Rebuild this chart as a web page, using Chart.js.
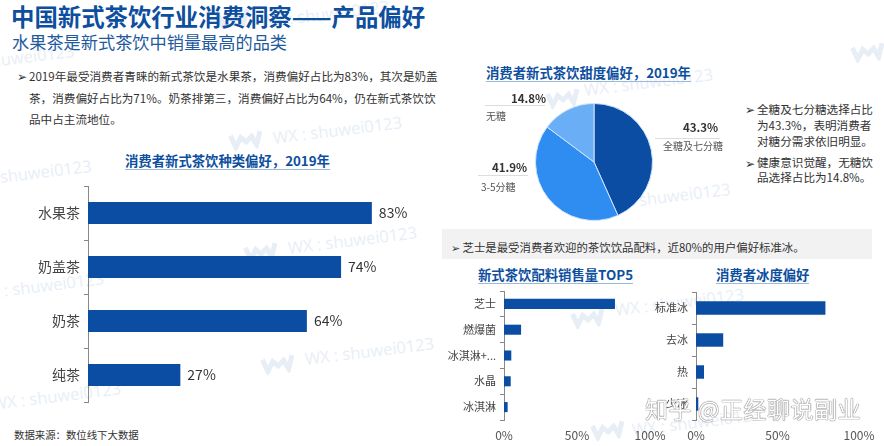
<!DOCTYPE html>
<html>
<head>
<meta charset="utf-8">
<script src="https://cdn.jsdelivr.net/npm/chart.js@4"></script>
<style>
html,body{margin:0;padding:0;background:#fff}
#page{position:relative;width:884px;height:446px;overflow:hidden;font-family:"Noto Sans CJK SC","Noto Sans",sans-serif;color:#333}
#page div{position:absolute;white-space:nowrap}
canvas{position:absolute}
svg.logo{position:absolute;width:36px;height:20px;transform:rotate(-7deg)}
.head{font-weight:700;font-size:13.35px;color:#0d4f9e;border-bottom:1px solid #9db9da;line-height:17px}
.body{font-size:11.6px;line-height:21.5px;color:#333}
.side{font-size:11.6px;line-height:16px;color:#333}
.mark{color:#e8eef6;font-size:16.5px;line-height:20px;transform:rotate(-7deg);transform-origin:left center;font-family:"Open Sans",sans-serif}
.pct{font-weight:700;font-size:11.5px;color:#333}
.cat{font-size:10px;color:#555}
.rule{height:1px;background:#ddd}
</style>
</head>
<body>
<div id="page">
  <svg width="0" height="0" style="position:absolute"><defs><path id="wLogo" d="M3 4 L7 16 L13 7 L18 12 L24 7 L28 16 L33 3" fill="none" stroke="#e8eef6" stroke-width="5"/></defs></svg>
  <svg class="logo" style="left:215px;top:8px"><use href="#wLogo"/></svg>
  <svg class="logo" style="left:228px;top:130px"><use href="#wLogo"/></svg>
  <svg class="logo" style="left:243px;top:242px"><use href="#wLogo"/></svg>
  <svg class="logo" style="left:260px;top:354px"><use href="#wLogo"/></svg>
  <svg class="logo" style="left:545px;top:88px"><use href="#wLogo"/></svg>
  <svg class="logo" style="left:570px;top:308px"><use href="#wLogo"/></svg>
  <svg class="logo" style="left:590px;top:420px"><use href="#wLogo"/></svg>
  <svg class="logo" style="left:850px;top:42px"><use href="#wLogo"/></svg>
  <div class="mark" style="left:260px;top:12px">WX : shuwei0123</div>
  <div class="mark" style="left:273px;top:128px">WX : shuwei0123</div>
  <div class="mark" style="left:288px;top:238px">WX : shuwei0123</div>
  <div class="mark" style="left:305px;top:349px">WX : shuwei0123</div>
  <div class="mark" style="left:584px;top:80px">WX : shuwei0123</div>
  <div class="mark" style="left:615px;top:300px">WX : shuwei0123</div>
  <div class="mark" style="left:632px;top:420px">WX : shuwei0123</div>
  <div class="mark" style="left:-25px;top:284px">WX : shuwei0123</div>
  <div class="mark" style="left:-8px;top:394px">WX : shuwei0123</div>
  <div class="mark" style="left:-17px;top:52px">shuwei0123</div>
  <div class="mark" style="left:0;top:167px">shuwei0123</div>
  <div class="mark" style="left:639px;top:190px">shuwei0123</div>

  <div style="left:11px;top:0;font-size:23.4px;line-height:32px;font-weight:700;color:#0d4f9e">中国新式茶饮行业消费洞察——产品偏好</div>
  <div style="left:12px;top:30px;font-size:17.2px;line-height:24px;color:#1f5a9e">水果茶是新式茶饮中销量最高的品类</div>

  <div class="body" style="left:17px;top:66px">➢</div>
  <div class="body" style="left:29px;top:66px">2019年最受消费者青睐的新式茶饮是水果茶，消费偏好占比为83%，其次是奶盖<br>茶，消费偏好占比为71%。奶茶排第三，消费偏好占比为64%，仍在新式茶饮饮<br>品中占主流地位。</div>

  <div class="head" style="left:125px;top:152px">消费者新式茶饮种类偏好，2019年</div>
  <div class="head" style="left:486px;top:64px">消费者新式茶饮甜度偏好，2019年</div>
  <div class="head" style="left:478px;top:266px">新式茶饮配料销售量TOP5</div>
  <div class="head" style="left:716px;top:266px">消费者冰度偏好</div>

  <div class="side" style="left:745px;top:101px">➢</div>
  <div class="side" style="left:757px;top:101px">全糖及七分糖选择占比<br>为43.3%，表明消费者<br>对糖分需求依旧明显。</div>
  <div class="side" style="left:745px;top:155px">➢</div>
  <div class="side" style="left:757px;top:155px;line-height:15px">健康意识觉醒，无糖饮<br>品选择占比为14.8%。</div>

  <div style="left:442px;top:229px;width:430px;height:30px;background:#f2f2f3"></div>
  <div style="left:451px;top:238px;font-size:11.4px;line-height:18px">➢ 芝士是最受消费者欢迎的茶饮饮品配料，近80%的用户偏好标准冰。</div>

  <canvas id="teaChart" style="left:0;top:180px"></canvas>
  <canvas id="sugarChart" style="left:524px;top:92px"></canvas>
  <canvas id="toppingChart" style="left:442px;top:284px"></canvas>
  <canvas id="iceChart" style="left:640px;top:284px"></canvas>

  <div class="pct" style="left:511px;top:90px">14.8%</div>
  <div class="rule" style="left:485px;top:105px;width:60px"></div>
  <div class="cat" style="left:486px;top:108px">无糖</div>
  <div class="pct" style="left:683px;top:119px">43.3%</div>
  <div class="rule" style="left:655px;top:138px;width:65px"></div>
  <div class="cat" style="left:663px;top:138px">全糖及七分糖</div>
  <div class="pct" style="left:492px;top:159px">41.9%</div>
  <div class="rule" style="left:478px;top:175px;width:50px"></div>
  <div class="cat" style="left:481px;top:179px">3-5分糖</div>

  <div style="left:14px;top:428px;font-size:10.4px;line-height:14px">数据来源：数位线下大数据</div>
  <div style="left:645px;top:393px;font-size:23px;line-height:30px;letter-spacing:.5px;color:#fff;text-shadow:0 0 1px #555,0 0 1px #555">知乎 @正经聊说副业</div>
</div>

<script>
const teaLabels = ['水果茶', '奶盖茶', '奶茶', '纯茶'];
const teaValues = [83, 74, 64, 27];

const sugarLabels = ['全糖及七分糖', '3-5分糖', '无糖'];
const sugarValues = [43.3, 41.9, 14.8];
const sugarColors = ['#0a4da2', '#2f8cf0', '#6aaef5'];

const toppingLabels = ['芝士', '燃爆菌', '冰淇淋+...', '水晶', '冰淇淋'];
const toppingValues = [76, 11.7, 5, 4.6, 2.5];

const iceLabels = ['标准冰', '去冰', '热', '少冰'];
const iceValues = [79.4, 16.7, 4.9, 1.4];

const pctTicks = [0, 50, 100];
const barBlue = '#0a4da2';
const fontName = '"Noto Sans CJK SC", "Noto Sans", sans-serif';

Chart.defaults.font.family = fontName;
Chart.defaults.animation = false;
Chart.defaults.responsive = false;
Chart.defaults.devicePixelRatio = 1;

// writes the "83%" next to each bar
const barValueLabels = {
  id: 'barValueLabels',
  afterDatasetsDraw(chart) {
    const ctx = chart.ctx;
    const vals = chart.data.datasets[0].data;
    ctx.save();
    ctx.font = '14px ' + fontName;
    ctx.fillStyle = '#333';
    ctx.textBaseline = 'middle';
    chart.getDatasetMeta(0).data.forEach((bar, i) => {
      ctx.fillText(vals[i] + '%', bar.x + 7, bar.y);
    });
    ctx.restore();
  }
};

function hbar(id, w, h, labels, values, o) {
  const cv = document.getElementById(id);
  cv.width = w;
  cv.height = h;
  return new Chart(cv, {
    type: 'bar',
    data: {
      labels: labels,
      datasets: [{ data: values, backgroundColor: barBlue, barPercentage: o.barPct, categoryPercentage: 1 }]
    },
    options: {
      indexAxis: 'y',
      layout: { padding: o.padding },
      plugins: { legend: { display: false }, tooltip: { enabled: false } },
      scales: {
        x: {
          min: 0,
          max: o.max,
          display: o.showX,
          afterBuildTicks: s => { s.ticks = pctTicks.map(v => ({ value: v })); },
          // no edge padding, the plot has to end where the 100% label is centred
          afterFit: s => { s.height = o.showX ? 26 : 0; s.paddingLeft = 0; s.paddingRight = 0; },
          grid: { display: false },
          border: { display: false },
          ticks: { color: '#555', font: { size: 12 }, maxRotation: 0, padding: 0, callback: v => v + '%' }
        },
        y: {
          afterFit: s => { s.width = o.axisW; s.paddingTop = 0; s.paddingBottom = 0; },
          grid: { drawOnChartArea: false, drawTicks: true, tickLength: 4, color: '#888' },
          border: { color: '#888' },
          ticks: { color: '#444', font: { size: o.fontSize }, padding: 4 }
        }
      }
    },
    plugins: o.plugins || []
  });
}

// left panel
hbar('teaChart', 442, 230, teaLabels, teaValues, {
  max: 100, showX: false, barPct: 0.41, axisW: 88, fontSize: 14,
  padding: { top: 6, bottom: 8, right: 12 },
  plugins: [barValueLabels]
});

// sugar pie
const sugarCv = document.getElementById('sugarChart');
sugarCv.width = 140;
sugarCv.height = 140;
new Chart(sugarCv, {
  type: 'pie',
  data: {
    labels: sugarLabels,
    datasets: [{ data: sugarValues, backgroundColor: sugarColors, borderColor: '#cfe4fb', borderWidth: 1 }]
  },
  options: {
    layout: { padding: 11 },
    plugins: { legend: { display: false }, tooltip: { enabled: false } }
  }
});

// bottom right panels
hbar('toppingChart', 224, 162, toppingLabels, toppingValues, {
  max: 100, showX: true, barPct: 0.39, axisW: 62, fontSize: 11,
  padding: { top: 7, bottom: 0, right: 16 }
});
hbar('iceChart', 240, 162, iceLabels, iceValues, {
  max: 100, showX: true, barPct: 0.42, axisW: 56, fontSize: 11,
  padding: { top: 8, bottom: 0, right: 21 }
});
</script>
</body>
</html>
